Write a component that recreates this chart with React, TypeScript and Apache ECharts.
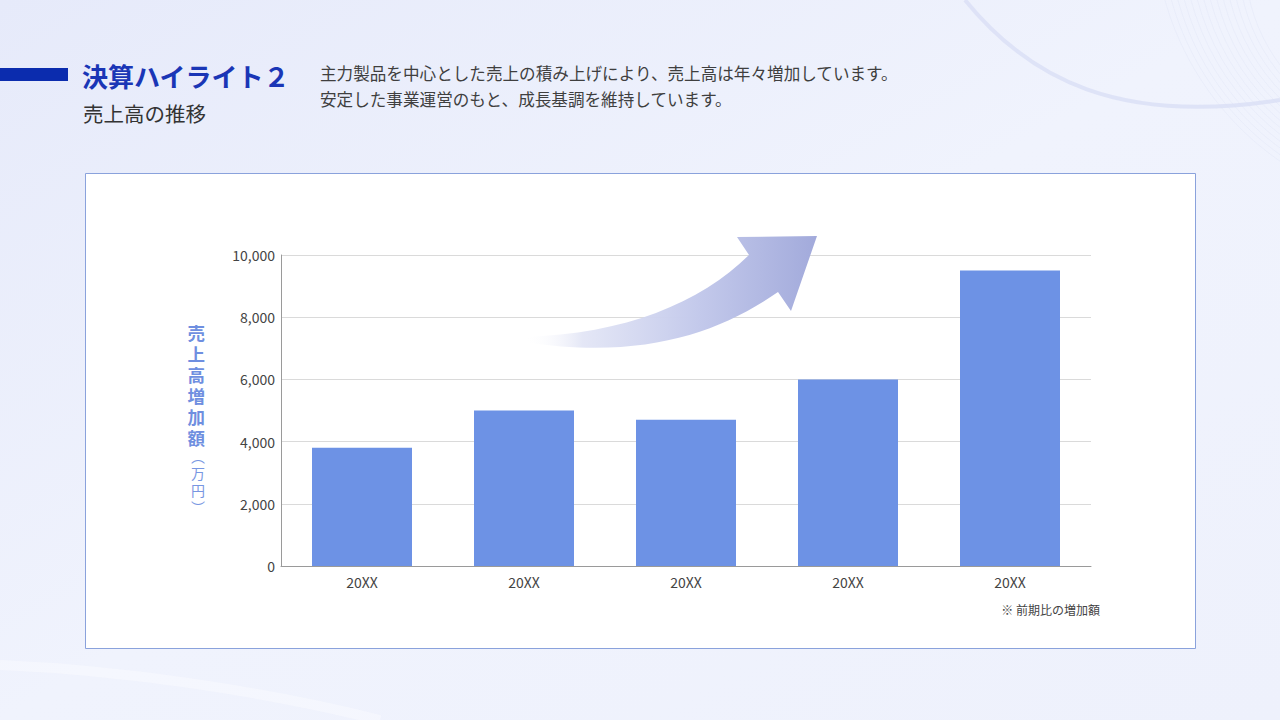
import React, { useEffect, useRef } from "react";
import * as echarts from "echarts";

const categories = ["20XX", "20XX", "20XX", "20XX", "20XX"];
const salesIncrease = [3800, 5000, 4700, 6000, 9500];
const yTicks = { min: 0, max: 10000, interval: 2000 };

const titleText = "決算ハイライト２";
const subtitleText = "売上高の推移";
const descLines = [
  "主力製品を中心とした売上の積み上げにより、売上高は年々増加しています。",
  "安定した事業運営のもと、成長基調を維持しています。",
];
const axisNameMain = "売上高増加額";
const axisNameUnit = "︵万円︶";
const footnote = "※ 前期比の増加額";

const ARROW_D =
  "M 524 337 C 625 334 700 303 749 255 L 737 237 L 817 236 L 791 311 L 778 292 C 718 334 640 360 524 342 Z";
echarts.graphic.registerShape("growArrow", echarts.graphic.extendPath(ARROW_D, {}) as any);

const FONT = '"Noto Sans CJK JP", "Noto Sans", sans-serif';

export default function App() {
  const ref = useRef<HTMLDivElement>(null);
  useEffect(() => {
    if (!ref.current) return;
    const chart = echarts.init(ref.current, undefined, { renderer: "svg" });
    const vertName =
      "{b|" + axisNameMain.split("").join("\n") + "}\n{u|" + axisNameUnit.split("").join("\n") + "}";

    const thinArcs: any[] = [];
    for (let i = 0; i < 14; i++) {
      thinArcs.push({
        type: "circle",
        z: -5,
        shape: { cx: 1420 + i * 2, cy: -40 - i * 3, r: 175 + i * 9 },
        style: { fill: "none", stroke: "#dfe4f6", lineWidth: 0.6, opacity: 0.7 },
        silent: true,
      });
    }

    chart.setOption({
      animation: false,
      textStyle: { fontFamily: FONT },
      grid: { left: 281, right: 189, top: 255, bottom: 154, containLabel: false },
      xAxis: {
        type: "category",
        data: categories,
        axisTick: { show: false },
        axisLine: { lineStyle: { color: "#9a9a9a", width: 1 } },
        axisLabel: { color: "#444", fontSize: 14, margin: 9, fontFamily: FONT },
      },
      yAxis: {
        type: "value",
        min: yTicks.min,
        max: yTicks.max,
        interval: yTicks.interval,
        axisLine: { show: true, lineStyle: { color: "#9a9a9a", width: 1 } },
        axisTick: { show: false },
        splitLine: { lineStyle: { color: "#dadada", width: 1 } },
        axisLabel: {
          color: "#444",
          fontSize: 14,
          margin: 6,
          fontFamily: FONT,
          formatter: (v: number) => v.toLocaleString("en-US"),
        },
        name: vertName,
        nameLocation: "middle",
        nameRotate: 0,
        nameGap: 76,
        nameTextStyle: {
          padding: [16, 0, 0, 0],
          rich: {
            b: { fontSize: 17.5, fontWeight: "bold", color: "#6f8fe0", lineHeight: 21, fontFamily: FONT },
            u: { fontSize: 14, fontWeight: "normal", color: "#7896e2", lineHeight: 17, fontFamily: FONT },
          },
        },
      },
      series: [
        {
          type: "bar",
          data: salesIncrease,
          barWidth: 100,
          itemStyle: { color: "#6d92e5" },
          z: 2,
        },
      ],
      graphic: [
        {
          type: "rect",
          z: -10,
          silent: true,
          shape: { x: 0, y: 0, width: 1280, height: 720 },
          style: {
            fill: new echarts.graphic.LinearGradient(0, 0, 1, 1, [
              { offset: 0, color: "#e6eafa" },
              { offset: 0.5, color: "#f0f3fd" },
              { offset: 1, color: "#eef1fc" },
            ]),
          },
        },
        ...thinArcs,
        {
          type: "bezierCurve",
          z: -5,
          silent: true,
          shape: { x1: 965, y1: 0, cpx1: 1030, cpy1: 80, cpx2: 1120, cpy2: 125, x2: 1280, y2: 100 },
          style: { fill: "none", stroke: "#d9def5", lineWidth: 4, opacity: 0.8 },
        },
        {
          type: "bezierCurve",
          z: -5,
          silent: true,
          shape: { x1: 0, y1: 665, cpx1: 120, cpy1: 670, cpx2: 260, cpy2: 690, x2: 380, y2: 720 },
          style: { fill: "none", stroke: "#f7f8fe", lineWidth: 10, opacity: 0.7 },
        },
        {
          type: "rect",
          z: -2,
          silent: true,
          shape: { x: 85.5, y: 173.5, width: 1110, height: 475 },
          style: { fill: "#ffffff", stroke: "#8aa2dc", lineWidth: 1 },
        },
        {
          type: "rect",
          silent: true,
          shape: { x: 0, y: 68, width: 68, height: 13 },
          style: { fill: "#0b2cae" },
        },
        {
          type: "text",
          x: 82,
          y: 75,
          style: {
            text: titleText,
            font: `bold 26px ${FONT}`,
            fill: "#1a36b6",
            verticalAlign: "middle",
          },
        },
        {
          type: "text",
          x: 83,
          y: 113,
          style: {
            text: subtitleText,
            font: `20.5px ${FONT}`,
            fill: "#333333",
            verticalAlign: "middle",
          },
        },
        {
          type: "text",
          x: 320,
          y: 73,
          style: {
            text: descLines[0],
            font: `16.6px ${FONT}`,
            fill: "#3f3f3f",
            verticalAlign: "middle",
          },
        },
        {
          type: "text",
          x: 320,
          y: 99,
          style: {
            text: descLines[1],
            font: `16.6px ${FONT}`,
            fill: "#3f3f3f",
            verticalAlign: "middle",
          },
        },
        {
          type: "growArrow",
          x: 0,
          y: 0,
          z: 10,
          silent: true,
          style: {
            fill: new echarts.graphic.LinearGradient(0, 0, 1, 0, [
              { offset: 0, color: "rgba(255,255,255,0)" },
              { offset: 0.2, color: "rgba(225,228,245,0.9)" },
              { offset: 0.6, color: "#c3c9eb" },
              { offset: 1, color: "#a2aadb" },
            ]),
          },
        },
        {
          type: "text",
          x: 1100,
          y: 609,
          style: {
            text: footnote,
            font: `12px ${FONT}`,
            fill: "#444444",
            align: "right",
            verticalAlign: "middle",
          },
        },
      ],
    });
    return () => chart.dispose();
  }, []);
  return (
    <div
      ref={ref}
      style={{ position: "absolute", left: 0, top: 0, width: 1280, height: 720 }}
    />
  );
}
